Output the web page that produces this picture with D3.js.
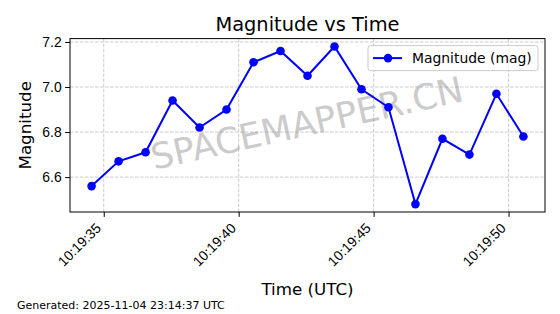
<!DOCTYPE html>
<html>
<head>
<meta charset="utf-8">
<script src="https://cdn.jsdelivr.net/npm/d3@7"></script>
<style>
  body { margin: 0; background: #fff; }
  svg { display: block; font-family: "DejaVu Sans", sans-serif; }
</style>
</head>
<body>
<div id="chart"></div>
<script>
const times = [
  "10:19:34.55", "10:19:35.55", "10:19:36.55", "10:19:37.55", "10:19:38.55",
  "10:19:39.55", "10:19:40.55", "10:19:41.55", "10:19:42.55", "10:19:43.55",
  "10:19:44.55", "10:19:45.55", "10:19:46.55", "10:19:47.55", "10:19:48.55",
  "10:19:49.55", "10:19:50.55"
];
const magnitudes = [6.56, 6.67, 6.71, 6.94, 6.82, 6.90, 7.11, 7.16, 7.05, 7.18,
  6.99, 6.91, 6.48, 6.77, 6.70, 6.97, 6.78];
const yTicks = [6.6, 6.8, 7.0, 7.2];
const day = "2025-11-04";

const W = 560, H = 314;
const margin = { top: 38.6, right: 15, bottom: 102, left: 70 };
const width = W - margin.left - margin.right;
const height = H - margin.top - margin.bottom;

const parseTime = d3.utcParse("%Y-%m-%d %H:%M:%S.%L");
const data = times.map((t, i) => ({ t: parseTime(day + " " + t + "0"), m: magnitudes[i] }));

// matplotlib style 5% margins
const tExt = d3.extent(data, d => +d.t);
const tPad = (tExt[1] - tExt[0]) * 0.05;
const mExt = d3.extent(magnitudes);
const mPad = (mExt[1] - mExt[0]) * 0.05;

const x = d3.scaleUtc().domain([new Date(tExt[0] - tPad), new Date(tExt[1] + tPad)]).range([0, width]);
const y = d3.scaleLinear().domain([mExt[0] - mPad, mExt[1] + mPad]).range([height, 0]);

const svg = d3.select('#chart').append('svg')
  .attr('width', W)
  .attr('height', H);

const g = svg.append('g')
  .attr('transform', 'translate(' + margin.left + ',' + margin.top + ')');

const xTicks = x.ticks(d3.utcSecond.every(5));

// grid
g.append('g').selectAll('line.gx').data(xTicks).join('line')
  .attr('x1', d => x(d)).attr('x2', d => x(d))
  .attr('y1', 0).attr('y2', height)
  .attr('stroke', '#b0b0b0').attr('stroke-width', 0.9)
  .attr('stroke-dasharray', '3.5,1.5').attr('opacity', 0.7);
g.append('g').selectAll('line.gy').data(yTicks).join('line')
  .attr('x1', 0).attr('x2', width)
  .attr('y1', d => y(d)).attr('y2', d => y(d))
  .attr('stroke', '#b0b0b0').attr('stroke-width', 0.9)
  .attr('stroke-dasharray', '3.5,1.5').attr('opacity', 0.7);

// watermark
g.append('text')
  .attr('transform', 'translate(237,84.5) rotate(-12.5)')
  .attr('text-anchor', 'middle')
  .attr('dominant-baseline', 'central')
  .style('font-size', '35.5px')
  .attr('fill', '#808080')
  .attr('opacity', 0.4)
  .text('SPACEMAPPER.CN');

// line + markers
const line = d3.line()
  .x(d => x(d.t))
  .y(d => y(d.m));

g.append('path')
  .datum(data)
  .attr('d', line)
  .attr('fill', 'none')
  .attr('stroke', '#0000ff')
  .attr('stroke-width', 2);

g.selectAll('circle.pt').data(data).join('circle')
  .attr('cx', d => x(d.t))
  .attr('cy', d => y(d.m))
  .attr('r', 4.3)
  .attr('fill', '#0000ff');

// axes
const xAxis = g.append('g')
  .attr('transform', 'translate(0,' + height + ')')
  .call(d3.axisBottom(x).tickValues(xTicks).tickFormat(d3.utcFormat('%H:%M:%S')).tickSizeOuter(0).tickSize(4.9).tickPadding(3));
xAxis.selectAll('text')
  .style('font-size', '13.9px')
  .attr('fill', '#000')
  .attr('text-anchor', 'end')
  .attr('dy', null)
  .attr('y', null)
  .attr('transform', 'translate(-2.3,17) rotate(-45)');

const yAxis = g.append('g')
  .call(d3.axisLeft(y).tickValues(yTicks).tickFormat(d3.format('.1f')).tickSizeOuter(0).tickSize(4.9).tickPadding(3.5));
yAxis.selectAll('text').style('font-size', '13.9px').attr('fill', '#000');

[xAxis, yAxis].forEach(a => {
  a.select('.domain').remove();
  a.selectAll('line').attr('stroke', '#000').attr('stroke-width', 1);
});

g.append('rect')
  .attr('width', width).attr('height', height)
  .attr('fill', 'none').attr('stroke', '#000').attr('stroke-width', 1);

// legend
const lg = g.append('g').attr('transform', 'translate(' + (width - 177) + ',7)');
lg.append('rect')
  .attr('width', 170).attr('height', 25).attr('rx', 2.5)
  .attr('fill', '#fff').attr('fill-opacity', 0.8)
  .attr('stroke', '#cccccc').attr('stroke-width', 1);
lg.append('line')
  .attr('x1', 5).attr('x2', 34).attr('y1', 12.5).attr('y2', 12.5)
  .attr('stroke', '#0000ff').attr('stroke-width', 2);
lg.append('circle').attr('cx', 20).attr('cy', 12.5).attr('r', 4.3).attr('fill', '#0000ff');
lg.append('text')
  .attr('x', 44).attr('y', 17.5)
  .style('font-size', '13.9px')
  .text('Magnitude (mag)');

// titles
svg.append('text')
  .attr('x', margin.left + width / 2).attr('y', 30.5)
  .attr('text-anchor', 'middle')
  .style('font-size', '19.4px')
  .text('Magnitude vs Time');

svg.append('text')
  .attr('transform', 'translate(30.5,' + (margin.top + height / 2) + ') rotate(-90)')
  .attr('text-anchor', 'middle')
  .style('font-size', '16.7px')
  .text('Magnitude');

svg.append('text')
  .attr('x', margin.left + width / 2).attr('y', 295)
  .attr('text-anchor', 'middle')
  .style('font-size', '16.7px')
  .text('Time (UTC)');

svg.append('text')
  .attr('x', 17).attr('y', 308.5)
  .style('font-size', '11px')
  .text('Generated: 2025-11-04 23:14:37 UTC');
</script>
</body>
</html>
